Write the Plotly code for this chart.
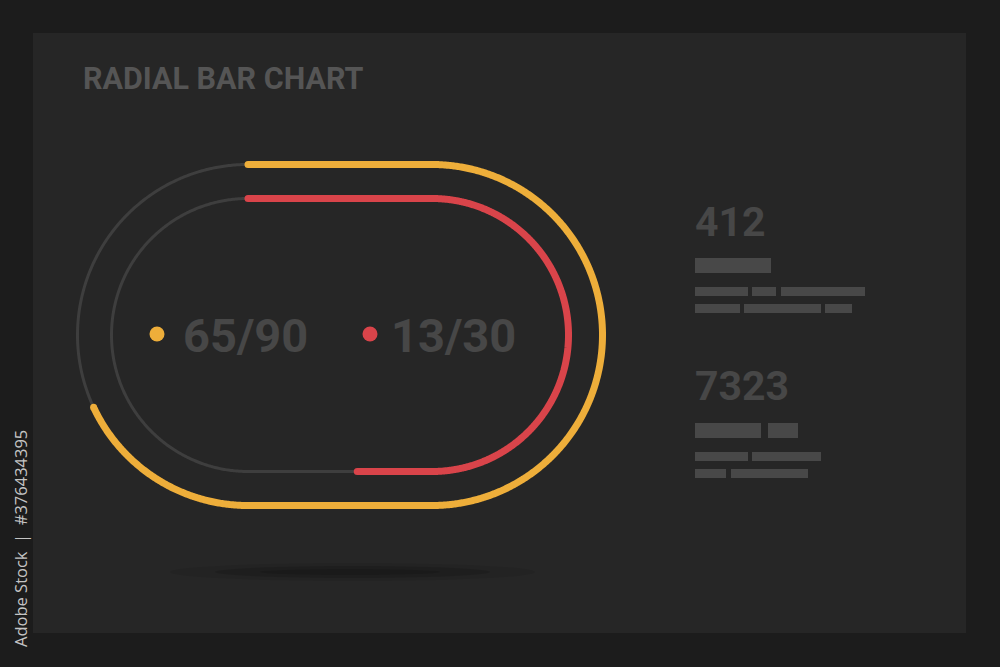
import numpy as np
import plotly.graph_objects as go

# ---------------- data ----------------
track_labels = ["65/90", "13/30"]
track_done = [65, 13]
track_total = [90, 30]
arc_share = [0.762, 0.561]          # share of each track filled, as drawn
stat_values = ["412", "7323"]
title_text = "RADIAL BAR CHART"

# ---------------- style / geometry ----------------
BG = "#1c1c1c"
PANEL = "#262626"
TRACK = "#3e3e3e"
TEXT = "#474747"
BLOCK = "#484848"
track_colors = ["#eeae3a", "#d9444a"]
radii = [170.5, 136.5]
CXL, CXR, CY = 248.0, 432.0, 335.0
LINE_W = 7


def stadium(r, frac, n=900):
    L = CXR - CXL
    arc = np.pi * r
    per = 2 * L + 2 * arc
    s = np.linspace(0, frac * per, n)
    xs, ys = [], []
    for v in s:
        if v <= L:
            xs.append(CXL + v); ys.append(CY - r)
        elif v <= L + arc:
            a = -np.pi / 2 + (v - L) / r
            xs.append(CXR + r * np.cos(a)); ys.append(CY + r * np.sin(a))
        elif v <= 2 * L + arc:
            xs.append(CXR - (v - L - arc)); ys.append(CY + r)
        else:
            a = np.pi / 2 + (v - 2 * L - arc) / r
            xs.append(CXL + r * np.cos(a)); ys.append(CY + r * np.sin(a))
    return np.array(xs), np.array(ys)


fig = go.Figure()

# background tracks
for r in radii:
    x, y = stadium(r, 1.0)
    fig.add_trace(go.Scatter(x=x, y=y, mode="lines",
                             line=dict(color=TRACK, width=3, simplify=False),
                             hoverinfo="skip", showlegend=False))

# progress arcs
for r, share, col in zip(radii, arc_share, track_colors):
    x, y = stadium(r, share)
    fig.add_trace(go.Scatter(x=x, y=y, mode="lines",
                             line=dict(color=col, width=LINE_W, simplify=False),
                             hoverinfo="skip", showlegend=False))
    fig.add_trace(go.Scatter(x=[x[0], x[-1]], y=[y[0], y[-1]], mode="markers",
                             marker=dict(color=col, size=LINE_W, line=dict(width=0)),
                             hoverinfo="skip", showlegend=False))

# legend dots + value labels
dot_x = [157, 370]
label_x = [181, 389]
for lbl, dx, lx, col in zip(track_labels, dot_x, label_x, track_colors):
    fig.add_trace(go.Scatter(x=[dx], y=[CY - 1], mode="markers",
                             marker=dict(color=col, size=15, line=dict(width=0)),
                             hoverinfo="skip", showlegend=False))
    fig.add_annotation(x=lx, y=CY, xref="x", yref="y", text=lbl, showarrow=False,
                       xanchor="left", yanchor="middle",
                       font=dict(family="Roboto", size=47, color=TEXT, weight=700))

# title
fig.add_annotation(x=81, y=78, xref="x", yref="y", text=title_text, showarrow=False,
                   xanchor="left", yanchor="middle",
                   font=dict(family="Roboto", size=30.5, color="#555555", weight=700))

# stat numbers
for val, yy in zip(stat_values, [222, 386]):
    fig.add_annotation(x=693, y=yy, xref="x", yref="y", text=val, showarrow=False,
                       xanchor="left", yanchor="middle",
                       font=dict(family="Roboto", size=41, color=TEXT, weight=700))

# stock id text
fig.add_annotation(x=20, y=539, xref="x", yref="y", text="Adobe Stock  |  #376434395",
                   showarrow=False, textangle=-90, xanchor="center", yanchor="middle",
                   font=dict(family="Open Sans", size=16.5, color="#c4c4c4"))

shapes = [
    dict(type="rect", x0=33, x1=966, y0=33, y1=633, fillcolor=PANEL,
         line=dict(width=0), layer="below"),
    dict(type="circle", x0=170, x1=535, y0=563, y1=581,
         fillcolor="rgba(0,0,0,0.08)", line=dict(width=0), layer="below"),
    dict(type="circle", x0=215, x1=490, y0=566, y1=578,
         fillcolor="rgba(0,0,0,0.12)", line=dict(width=0), layer="below"),
    dict(type="circle", x0=260, x1=440, y0=569, y1=575,
         fillcolor="rgba(0,0,0,0.12)", line=dict(width=0), layer="below"),
]
blocks = [
    (695, 771, 258, 273),
    (695, 748, 287, 296), (752, 776, 287, 296), (781, 865, 287, 296),
    (695, 740, 304, 313), (744, 821, 304, 313), (825, 852, 304, 313),
    (695, 761, 423, 438), (768, 798, 423, 438),
    (695, 748, 452, 461), (752, 821, 452, 461),
    (695, 726, 469, 478), (731, 808, 469, 478),
]
for x0, x1, y0, y1 in blocks:
    shapes.append(dict(type="rect", x0=x0, x1=x1, y0=y0, y1=y1,
                       fillcolor=BLOCK, line=dict(width=0), layer="below"))

fig.update_layout(
    width=1000, height=667,
    margin=dict(l=0, r=0, t=0, b=0),
    paper_bgcolor=BG, plot_bgcolor=BG,
    xaxis=dict(range=[0, 1000], visible=False, fixedrange=True),
    yaxis=dict(range=[667, 0], visible=False, fixedrange=True),
    shapes=shapes,
    showlegend=False,
)

fig.write_html(
    "out.html",
    config={"displayModeBar": False},
    post_script="document.body.style.margin='0';document.body.style.padding='0';"
                "document.body.style.overflow='hidden';"
                "document.body.style.background='#1c1c1c';",
)
